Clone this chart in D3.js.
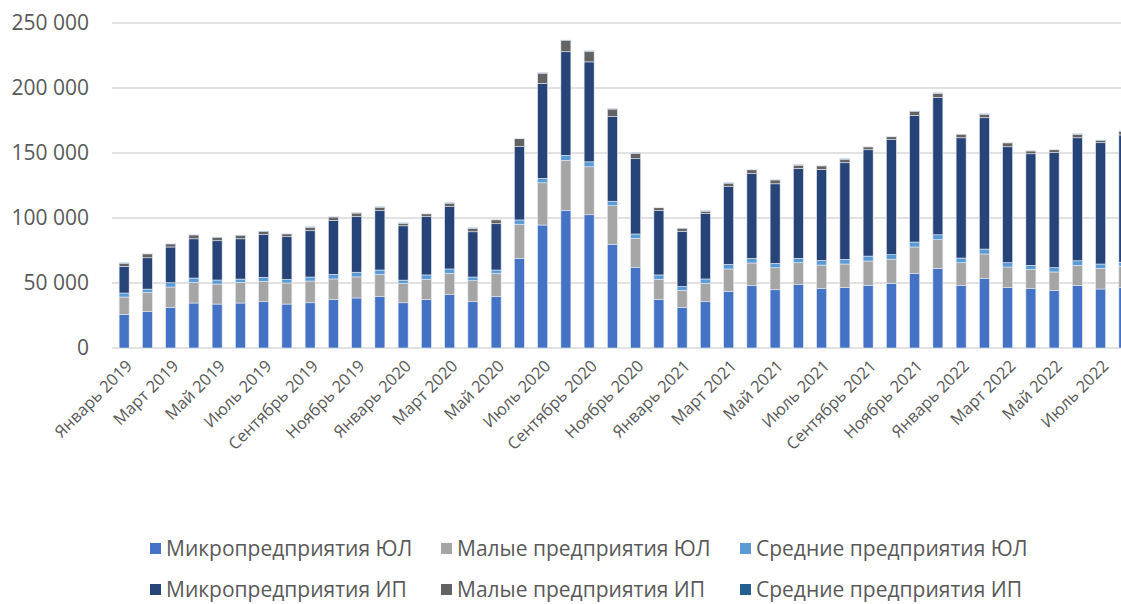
<!DOCTYPE html>
<html lang="ru">
<head>
<meta charset="utf-8">
<title>Микро и малые предприятия</title>
<script src="https://cdn.jsdelivr.net/npm/d3@7"></script>
<style>
  body { margin: 0; background: #fff; }
  text { font-family: "Open Sans", "Noto Sans", sans-serif; fill: #595959; }
</style>
</head>
<body>
<svg id="chart" width="1121" height="604"></svg>
<script>
// months Jan 2019 .. Aug 2022
var months = ["Январь 2019","Февраль 2019","Март 2019","Апрель 2019","Май 2019","Июнь 2019","Июль 2019","Август 2019","Сентябрь 2019","Октябрь 2019","Ноябрь 2019","Декабрь 2019",
  "Январь 2020","Февраль 2020","Март 2020","Апрель 2020","Май 2020","Июнь 2020","Июль 2020","Август 2020","Сентябрь 2020","Октябрь 2020","Ноябрь 2020","Декабрь 2020",
  "Январь 2021","Февраль 2021","Март 2021","Апрель 2021","Май 2021","Июнь 2021","Июль 2021","Август 2021","Сентябрь 2021","Октябрь 2021","Ноябрь 2021","Декабрь 2021",
  "Январь 2022","Февраль 2022","Март 2022","Апрель 2022","Май 2022","Июнь 2022","Июль 2022","Август 2022"];

var seriesNames = ["Микропредприятия ЮЛ","Малые предприятия ЮЛ","Средние предприятия ЮЛ","Микропредприятия ИП","Малые предприятия ИП","Средние предприятия ИП"];
var seriesColors = ["#4472C4","#A5A5A5","#5B9BD5","#264478","#636363","#255E91"];

var microUL = [25900,28200,31300,34600,33800,34600,35600,33800,34800,37200,38500,39500,
  34800,37200,41000,35600,39500,69000,94600,105600,102500,79800,61800,37500,
  31200,35600,43600,47900,44800,48700,45900,46700,48200,49800,57500,61300,
  48200,53300,46700,45600,44100,48200,45400,46700];
var smallUL = [13300,14600,15600,15900,15400,15900,15700,16200,16700,15900,16200,17200,
  14900,15700,16500,16200,18000,26200,32500,38800,36900,29700,22600,15400,
  13200,14200,17200,17500,16900,16900,17900,17900,18700,18500,20200,22000,
  17400,19000,15600,14900,14400,15400,15900,16200];
var mediumUL = [3100,2500,3300,3300,3100,2500,3100,2800,3100,3600,3600,3300,
  2500,3300,3300,2800,2500,3300,3400,3800,3800,3400,3300,3300,
  2900,3300,3600,3600,3400,3400,3600,3600,3800,3500,3800,3800,
  3600,3800,3300,3100,3300,3500,3300,3100];
var microIP = [20500,24100,27500,30200,30200,31000,32800,32800,35600,41400,42800,45600,
  41800,44800,47900,34800,35600,56400,73100,79700,76900,65100,57900,49500,
  42500,50200,59700,65100,61200,69200,70000,74300,81800,88500,97500,105700,
  92500,101000,89200,85800,88500,94600,93300,97900];
var smallIP = [2400,3000,2400,3000,2400,2400,2400,2200,2700,2700,2700,2700,
  1900,2200,2700,2700,3000,6100,7800,8600,8100,5800,4200,2200,
  2100,1900,2700,3000,3000,2400,2700,2700,2200,2200,2900,3100,
  2400,2700,3000,2200,2200,2700,1700,2700];
var mediumIP = [400,400,400,400,400,400,400,400,400,400,400,400,
  400,400,400,400,400,400,400,400,400,400,400,400,
  400,400,400,400,400,400,400,400,400,400,400,400,
  400,400,400,400,400,400,400,400];

var yTicks = [0, 50000, 100000, 150000, 200000, 250000];

var svg = d3.select("#chart");

var rows = months.map(function(m, i) {
  return { month: m, s0: microUL[i], s1: smallUL[i], s2: mediumUL[i], s3: microIP[i], s4: smallIP[i], s5: mediumIP[i] };
});
var keys = ["s0","s1","s2","s3","s4","s5"];
var stacked = d3.stack().keys(keys)(rows);

// band step ~23.25 px, last bar runs off the right edge like in the original
var x = d3.scaleBand()
  .domain(months)
  .range([112.5, 112.5 + months.length * 23.25])
  .paddingInner(0.57)
  .paddingOuter(0.285);

var y = d3.scaleLinear().domain([0, 250000]).range([348, 23]);

var fmt = d3.formatLocale({ decimal: ",", thousands: " ", grouping: [3], currency: ["", ""] }).format(",d");

//gridlines
svg.append("g")
  .selectAll("line")
  .data(yTicks)
  .join("line")
  .attr("x1", 112)
  .attr("x2", 1121)
  .attr("y1", function(d) { return y(d); })
  .attr("y2", function(d) { return y(d); })
  .attr("stroke", "#d9d9d9")
  .attr("stroke-width", 1.5);

//y axis labels
var yAxis = d3.axisLeft(y).tickValues(yTicks).tickFormat(fmt).tickSize(0).tickPadding(0);
var gy = svg.append("g").attr("transform", "translate(89,0)").call(yAxis);
gy.select(".domain").remove();
gy.selectAll("text").style("font-size", "21px").attr("fill", "#595959")
  .style("font-family", "'Open Sans', sans-serif");

//bars
svg.append("g")
  .selectAll("g")
  .data(stacked)
  .join("g")
  .attr("fill", function(d, i) { return seriesColors[i]; })
  .selectAll("rect")
  .data(function(d) { return d; })
  .join("rect")
  .attr("x", function(d) { return x(d.data.month); })
  .attr("width", x.bandwidth())
  .attr("y", function(d) { return y(d[1]); })
  .attr("height", function(d) { return y(d[0]) - y(d[1]); })
  .attr("stroke", "#e4e9f2")
  .attr("stroke-width", 0.6);

//x axis labels, every second month
var xAxis = d3.axisBottom(x)
  .tickValues(months.filter(function(m, i) { return i % 2 === 0; }))
  .tickSize(0)
  .tickPadding(0);
var gx = svg.append("g").attr("transform", "translate(0,348)").call(xAxis);
gx.select(".domain").remove();
gx.selectAll("text")
  .style("font-size", "16.5px")
  .style("font-family", "'Open Sans', sans-serif")
  .attr("fill", "#595959")
  .attr("text-anchor", "end")
  .attr("dy", 0)
  .attr("transform", "translate(9,19) rotate(-45)");

//legend
var legX = [150, 441, 740];
var legY = [549, 590];
var legend = svg.append("g")
  .selectAll("g")
  .data(seriesNames)
  .join("g")
  .attr("transform", function(d, i) { return "translate(" + legX[i % 3] + "," + legY[Math.floor(i / 3)] + ")"; });
legend.append("rect")
  .attr("x", 0).attr("y", -6).attr("width", 11).attr("height", 11)
  .attr("fill", function(d, i) { return seriesColors[i]; });
legend.append("text")
  .attr("x", 16).attr("y", 0).attr("dy", "0.35em")
  .style("font-size", "21px")
  .text(function(d) { return d; });
</script>
</body>
</html>
